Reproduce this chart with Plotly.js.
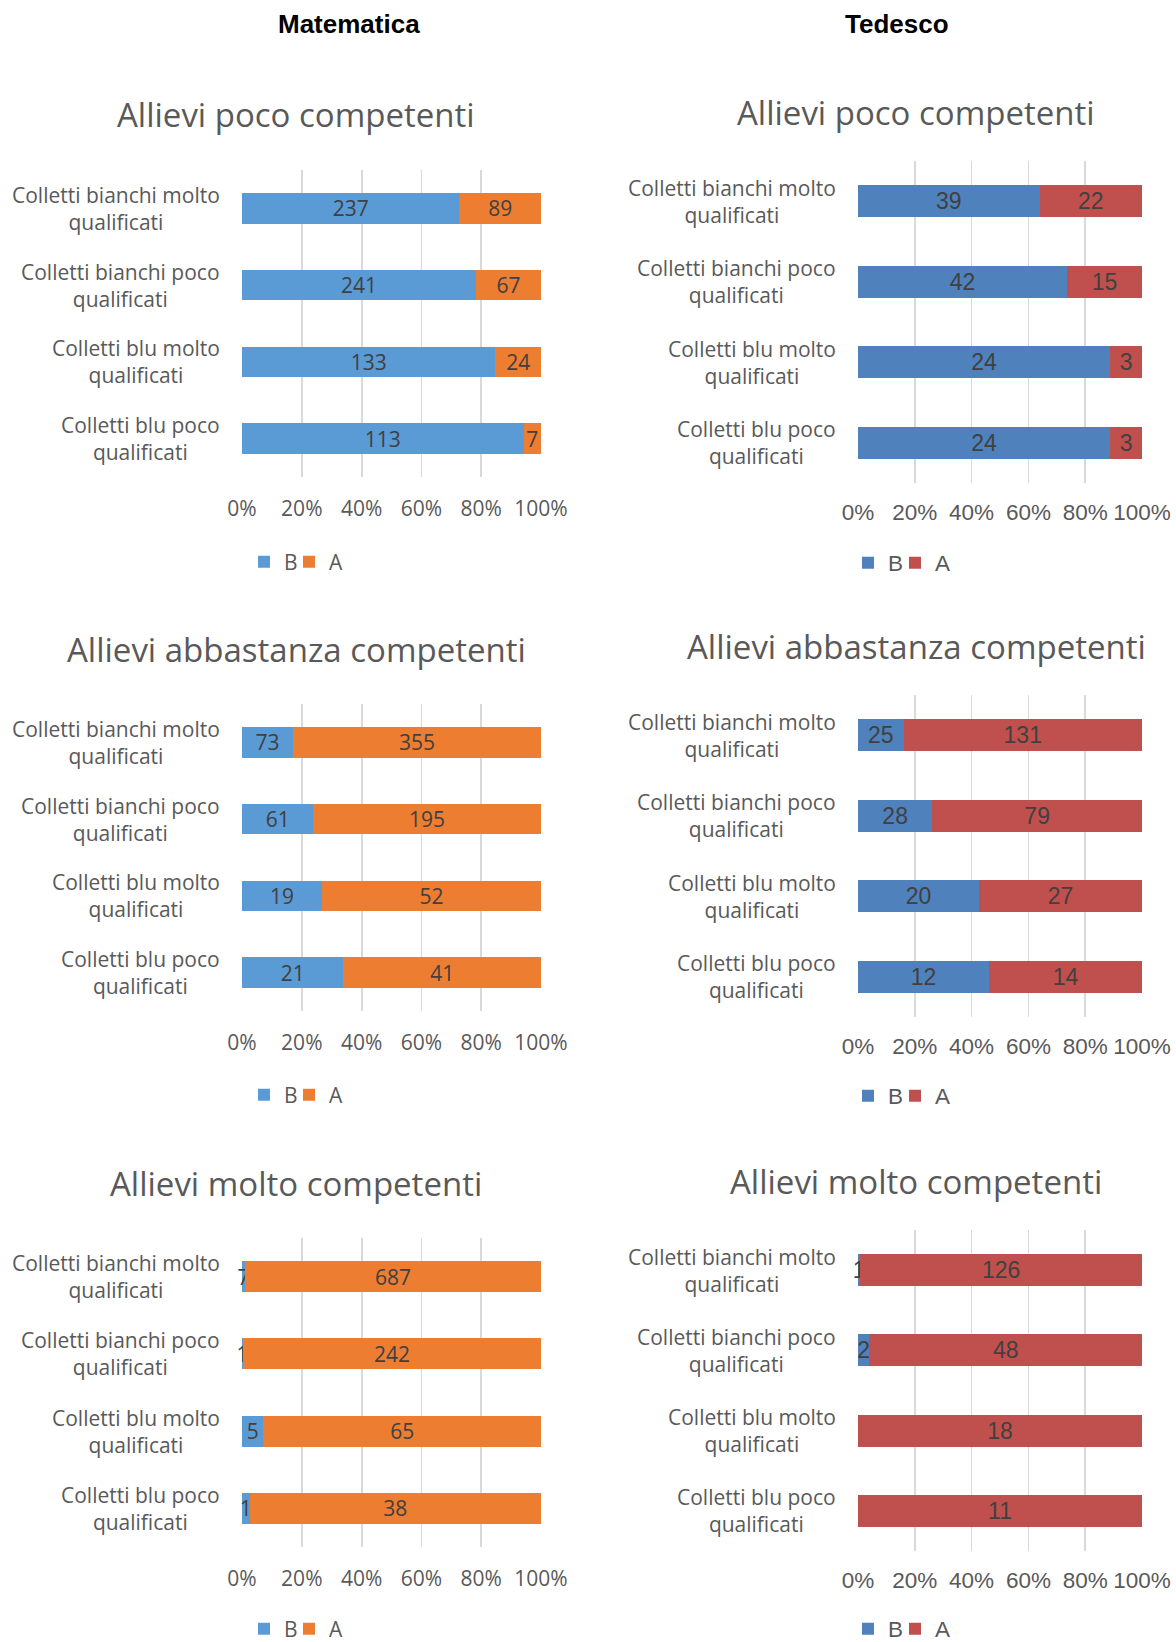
<!DOCTYPE html>
<html>
<head>
<meta charset="utf-8">
<script src="https://cdn.plot.ly/plotly-3.0.1.min.js"></script>
<style>
  html, body { margin: 0; padding: 0; background: #ffffff; }
  #chart { width: 1176px; height: 1642px; }
</style>
</head>
<body>
<div id="chart"></div>
<script>
// ---------------- DATA ----------------
const categories = [
  'Colletti bianchi molto qualificati',
  'Colletti bianchi poco qualificati',
  'Colletti blu molto qualificati',
  'Colletti blu poco qualificati'
];
const categoryLabels = [
  'Colletti bianchi molto<br>qualificati',
  'Colletti bianchi poco<br>qualificati',
  'Colletti blu molto<br>qualificati',
  'Colletti blu poco<br>qualificati'
];
const subjects = ['Matematica', 'Tedesco'];
const panelTitles = ['Allievi poco competenti', 'Allievi abbastanza competenti', 'Allievi molto competenti'];
const seriesNames = ['B', 'A'];
const xTickVals = [0, 20, 40, 60, 80, 100];
const xTickText = ['0%', '20%', '40%', '60%', '80%', '100%'];

// Matematica
const matPocoB = [237, 241, 133, 113];
const matPocoA = [89, 67, 24, 7];
const matAbbastanzaB = [73, 61, 19, 21];
const matAbbastanzaA = [355, 195, 52, 41];
const matMoltoB = [7, 1, 5, 1];
const matMoltoA = [687, 242, 65, 38];
// Tedesco
const tedPocoB = [39, 42, 24, 24];
const tedPocoA = [22, 15, 3, 3];
const tedAbbastanzaB = [25, 28, 20, 12];
const tedAbbastanzaA = [131, 79, 27, 14];
const tedMoltoB = [1, 2, 0, 0];
const tedMoltoA = [126, 48, 18, 11];

// ---------------- STYLE / LAYOUT ----------------
const W = 1176, H = 1642;
const px2x = p => p / W;
const px2y = p => 1 - p / H;

const calib = 'Open Sans, Noto Sans, sans-serif';
const arial = 'Liberation Sans, Arial, sans-serif';
const grey = '#595959';
const dark = '#404040';

const colStyles = [
  { colors: ['#5B9BD5', '#ED7D31'], xpx: [242, 541], titleX: 296, legendSq: [265, 310], standoff: 17,
    tickFont: { family: calib, size: 21, color: grey },
    labelFont: { family: calib, size: 21, color: dark },
    legendFont: { family: calib, size: 21, color: grey },
    catFont: { family: calib, size: 21, color: grey },
    titleFont: { family: calib, size: 33, color: grey } },
  { colors: ['#4F81BD', '#C0504D'], xpx: [858, 1142], titleX: 916, legendSq: [869, 916], standoff: 13,
    tickFont: { family: arial, size: 22.5, color: grey },
    labelFont: { family: arial, size: 23, color: dark },
    legendFont: { family: arial, size: 22.5, color: grey },
    catFont: { family: calib, size: 21, color: grey },
    titleFont: { family: calib, size: 33, color: grey } }
];

// per column, per row: plot top/bottom px, title y, legend y
const rowGeom = [
  [ { y: [170, 477], titleY: 115, legendY: 562 },
    { y: [704, 1011], titleY: 649, legendY: 1095 },
    { y: [1238, 1547], titleY: 1183, legendY: 1629 } ],
  [ { y: [161, 483], titleY: 112, legendY: 563 },
    { y: [695, 1017], titleY: 646, legendY: 1096 },
    { y: [1230, 1551], titleY: 1181, legendY: 1629 } ]
];

const panelData = [
  [ [matPocoB, matPocoA], [matAbbastanzaB, matAbbastanzaA], [matMoltoB, matMoltoA] ],
  [ [tedPocoB, tedPocoA], [tedAbbastanzaB, tedAbbastanzaA], [tedMoltoB, tedMoltoA] ]
];

const traces = [];
const layout = {
  width: W, height: H,
  margin: { l: 0, r: 0, t: 0, b: 0, autoexpand: false },
  paper_bgcolor: '#ffffff', plot_bgcolor: 'rgba(0,0,0,0)',
  barmode: 'stack', barnorm: 'percent', bargap: 0.6,
  showlegend: true,
  annotations: [],
  hovermode: false
};

// headers
subjects.forEach((s, c) => {
  layout.annotations.push({
    xref: 'paper', yref: 'paper', x: px2x([349, 897][c]), y: px2y(24),
    xanchor: 'center', yanchor: 'middle', showarrow: false,
    text: '<b>' + s + '</b>',
    font: { family: arial, size: 26, color: '#000000' }
  });
});

let idx = 0, legIdx = 0;
for (let c = 0; c < 2; c++) {
  const st = colStyles[c];
  for (let r = 0; r < 3; r++) {
    idx++;
    const g = rowGeom[c][r];
    const sfx = (idx === 1 ? '' : String(idx));
    const xRef = 'x' + sfx, yRef = 'y' + sfx;

    layout['xaxis' + sfx] = {
      domain: [px2x(st.xpx[0]), px2x(st.xpx[1])],
      anchor: yRef,
      // tiny headroom so that floating-point sums of exactly 100% stay in range
      range: [0, 100.00001],
      tickmode: 'array', tickvals: xTickVals, ticktext: xTickText,
      showgrid: true, gridcolor: '#D9D9D9', gridwidth: 1.8,
      zeroline: false, showline: false, ticks: '',
      ticklabelstandoff: st.standoff,
      tickfont: st.tickFont,
      fixedrange: true
    };
    layout['yaxis' + sfx] = {
      domain: [px2y(g.y[1]), px2y(g.y[0])],
      anchor: xRef,
      type: 'category',
      categoryorder: 'array', categoryarray: categories,
      autorange: 'reversed',
      showticklabels: false, showgrid: false, zeroline: false, showline: false, ticks: '',
      fixedrange: true
    };

    const vals = panelData[c][r];
    seriesNames.forEach((name, s) => {
      legIdx++;
      const legName = 'legend' + (legIdx === 1 ? '' : String(legIdx));
      layout[legName] = {
        orientation: 'h',
        x: px2x(st.legendSq[s] - 21), y: px2y(g.legendY),
        xanchor: 'left', yanchor: 'middle',
        font: st.legendFont,
        bgcolor: 'rgba(0,0,0,0)',
        itemwidth: 30,
        itemclick: false, itemdoubleclick: false
      };
      traces.push({
        type: 'bar', orientation: 'h',
        name: name,
        x: vals[s], y: categories,
        xaxis: xRef, yaxis: yRef,
        legend: legName,
        marker: { color: st.colors[s], line: { width: 0 } },
        text: vals[s].map(v => v > 0 ? String(v) : ''),
        textposition: 'inside', insidetextanchor: 'middle',
        constraintext: 'none', textangle: 0,
        textfont: st.labelFont,
        cliponaxis: false,
        hoverinfo: 'skip'
      });
    });

    // panel title
    layout.annotations.push({
      xref: 'paper', yref: 'paper', x: px2x(st.titleX), y: px2y(g.titleY),
      xanchor: 'center', yanchor: 'middle', showarrow: false,
      text: panelTitles[r], font: st.titleFont
    });
    // category labels (centred two-line labels, right-aligned to the plot)
    categories.forEach((cat, k) => {
      layout.annotations.push({
        xref: xRef + ' domain', yref: yRef, x: 0, y: cat,
        xanchor: 'right', yanchor: 'middle', xshift: -20,
        showarrow: false, align: 'center',
        text: categoryLabels[k], font: st.catFont
      });
    });
  }
}

Plotly.newPlot('chart', traces, layout, { staticPlot: true, displayModeBar: false });
</script>
</body>
</html>
